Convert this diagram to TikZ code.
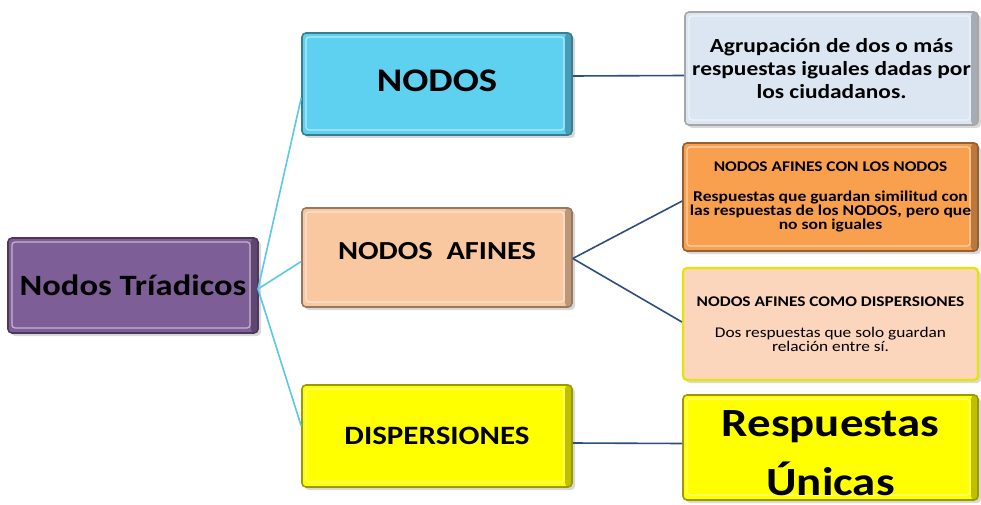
\documentclass[tikz,border=0pt]{standalone}
\usepackage{fontspec}
\setmainfont{Carlito}[FakeStretch=1.17]
\usetikzlibrary{shadows}
\definecolor{cpurple}{HTML}{7D5E96}
\definecolor{ccyan}{HTML}{5ED0F0}
\definecolor{cpeach}{HTML}{F9C8A0}
\definecolor{cyell}{HTML}{FFFF00}
\definecolor{cltblue}{HTML}{DCE6F2}
\definecolor{corange}{HTML}{F9A04E}
\definecolor{cpeachb}{HTML}{FBD6BC}
\definecolor{clinecyan}{HTML}{5BC8E6}
\definecolor{clineblue}{HTML}{2E4E7E}
\tikzset{
  box/.style={rectangle, rounded corners=4pt, draw=#1!60!black, line width=1.6pt, fill=#1,
    drop shadow={opacity=0.3, shadow xshift=3pt, shadow yshift=-3pt},
    inner sep=0pt, align=center, font=\bfseries,
    path picture={
      \fill[#1!55!black, opacity=0.55] ([xshift=-7pt]path picture bounding box.north east) rectangle (path picture bounding box.south east);
      \draw[white, opacity=0.55, line width=1.2pt, rounded corners=3pt]
        ([shift={(4pt,-4pt)}]path picture bounding box.north west) rectangle
        ([shift={(-8pt,5pt)}]path picture bounding box.south east);}},
  rbox/.style={rectangle, rounded corners=4pt, draw=#1, line width=2.2pt,
    drop shadow={opacity=0.3, shadow xshift=3pt, shadow yshift=-3pt},
    inner sep=0pt, align=center, font=\bfseries},
  cyanline/.style={draw=clinecyan, line width=1.6pt},
  blueline/.style={draw=clineblue, line width=1.6pt}
}
\begin{document}
\begin{tikzpicture}[x=1pt,y=-1pt]
\useasboundingbox (0,0) rectangle (981,505);
\fill[white] (0,0) rectangle (981,505);
\coordinate (tc) at (258,289);
\node[box=cpurple, minimum width=250pt, minimum height=95pt, font=\bfseries\fontsize{29.5}{32}\selectfont] (T) at (133,285.5) {Nodos Tríadicos};
\node[box=ccyan, minimum width=270pt, minimum height=102pt, font=\bfseries\fontsize{33}{40}\selectfont] (N1) at (437,84) {\raisebox{6pt}{NODOS}};
\node[box=cpeach, minimum width=270pt, minimum height=99pt, font=\bfseries\fontsize{26}{30}\selectfont] (N2) at (437,257.5) {\raisebox{13pt}{NODOS\ \ AFINES}};
\node[box=cyell, minimum width=270pt, minimum height=102pt, font=\bfseries\fontsize{26.5}{32}\selectfont] (N3) at (437,436) {\raisebox{-6pt}{DISPERSIONES}};
\node[box=cltblue, draw=black!35, minimum width=293pt, minimum height=113pt, font=\bfseries\fontsize{20}{23}\selectfont] (R1) at (831.5,68.5) {Agrupación de dos o más\\respuestas iguales dadas por\\los ciudadanos.};
\node[box=corange, minimum width=295pt, minimum height=108pt] (R2) at (830.5,197) {{\fontsize{14.8}{17}\selectfont NODOS AFINES CON LOS NODOS}\\[18pt]{\fontsize{15}{17.5}\selectfont Respuestas que guardan similitud con}\\{\fontsize{15}{17.5}\selectfont las respuestas de los NODOS, pero que}\\{\fontsize{15}{17.5}\selectfont no son iguales}};
\node[rbox=cyell!90!black, fill=cpeachb, minimum width=295pt, minimum height=112pt] (R3) at (830.5,324) {{\fontsize{14.8}{17}\selectfont NODOS AFINES COMO DISPERSIONES}\\[19pt]{\mdseries\fontsize{14.8}{19}\selectfont Dos respuestas que solo guardan}\\{\mdseries\fontsize{14.8}{19}\selectfont relación entre sí.}};
\node[box=cyell, minimum width=295pt, minimum height=105pt, font=\bfseries\fontsize{40}{57}\selectfont] (R4) at (830.5,447.5) {\raisebox{-6pt}[\height][\depth]{\shortstack{Respuestas\\[16pt]Únicas}}};
\draw[cyanline] (tc) -- ([yshift=-14pt]N1.west);
\draw[cyanline] (tc) -- ([yshift=-4pt]N2.west);
\draw[cyanline] (tc) -- ([yshift=10pt]N3.west);
\draw[blueline] ([yshift=8pt]N1.east) -- ([yshift=-7pt]R1.west);
\draw[blueline] ([yshift=-1pt]N2.east) -- ([yshift=-4pt]R2.west);
\draw[blueline] ([yshift=-1pt]N2.east) -- ([yshift=2pt]R3.west);
\draw[blueline] ([yshift=-7pt]N3.east) -- ([yshift=4pt]R4.west);
\end{tikzpicture}
\end{document}
